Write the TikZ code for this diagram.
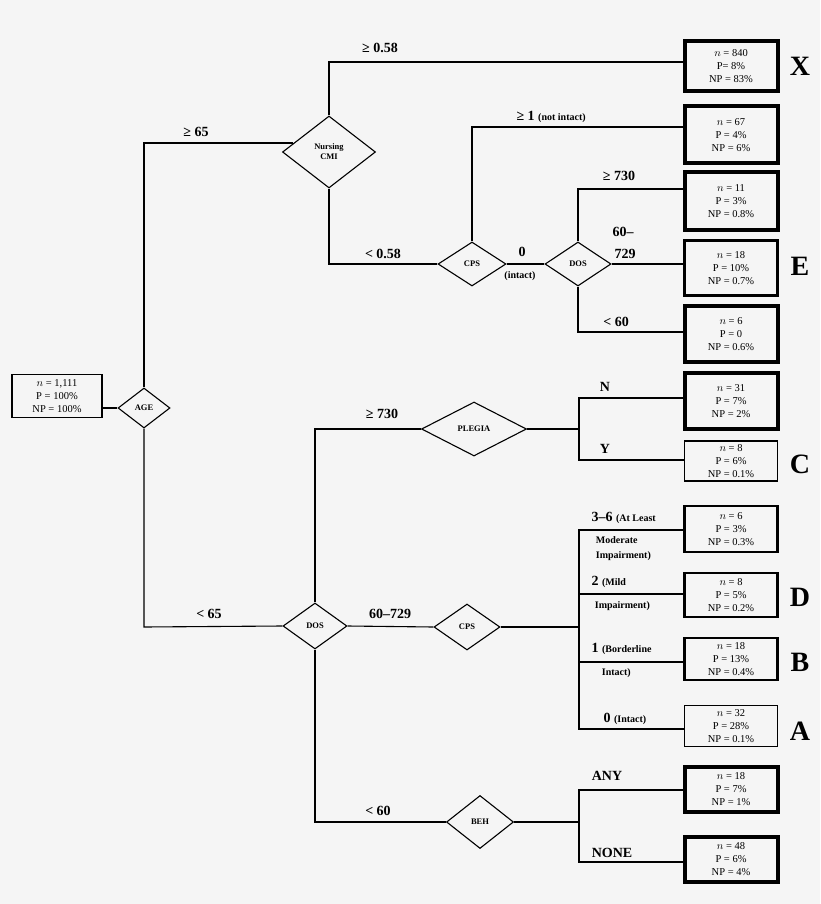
\documentclass[tikz,border=0pt]{standalone}
\usepackage{fontspec}
\setmainfont{Liberation Serif}
\usetikzlibrary{shapes.geometric,calc}
\definecolor{bg}{HTML}{F5F5F5}
\begin{document}
\begin{tikzpicture}[x=1pt,y=-1pt,line width=1.1pt,
  dia/.style={draw,diamond,inner sep=0pt,font=\fontsize{8.5}{10}\selectfont\bfseries,align=center},
  box/.style={draw,rectangle,inner sep=0pt,minimum width=93pt,align=center,font=\fontsize{10.5}{13}\selectfont},
  thin/.style={line width=1.5pt},med/.style={line width=2.6pt},thk/.style={line width=4pt},
  lab/.style={font=\fontsize{14}{15}\selectfont\bfseries,inner sep=0pt},
  sl/.style={font=\fontsize{10}{11}\selectfont\bfseries},
  grp/.style={font=\fontsize{28}{28}\selectfont\bfseries,inner sep=0pt}]
\fill[bg] (0,0) rectangle (820,904);
\useasboundingbox (0,0) rectangle (820,904);
% root
\node[box,thin,minimum width=90pt,minimum height=43pt] (root) at (57,396) {$n$ = 1,111\\P = 100\%\\NP = 100\%};
\node[dia,minimum width=52pt,minimum height=40pt] (age) at (144,408) {AGE};
\node[dia,minimum width=93pt,minimum height=72pt] (nurs) at (329,152) {Nursing\\CMI};
\node[dia,minimum width=68pt,minimum height=44pt] (cps1) at (472,264) {CPS};
\node[dia,minimum width=66pt,minimum height=44pt] (dos1) at (578,264) {DOS};
\node[dia,minimum width=64pt,minimum height=46pt] (dos2) at (315,626) {DOS};
\node[dia,minimum width=105pt,minimum height=54pt] (pleg) at (474,429) {PLEGIA};
\node[dia,minimum width=66pt,minimum height=46pt] (cps2) at (467,627) {CPS};
\node[dia,minimum width=67pt,minimum height=53pt] (beh) at (480,822) {BEH};
% leaves
\node[box,thk,minimum height=50pt] (bX) at (731,66) {$n$ = 840\\P= 8\%\\NP = 83\%};
\node[box,thk,minimum height=57pt] (b67) at (731,135) {$n$ = 67\\P = 4\%\\NP = 6\%};
\node[box,thk,minimum height=57pt] (b11) at (731,201) {$n$ = 11\\P = 3\%\\NP = 0.8\%};
\node[box,med,minimum height=55pt] (bE) at (731,268) {$n$ = 18\\P = 10\%\\NP = 0.7\%};
\node[box,thk,minimum height=56pt] (b6) at (731,334) {$n$ = 6\\P = 0\\NP = 0.6\%};
\node[box,thk,minimum height=56pt] (b31) at (731,401) {$n$ = 31\\P = 7\%\\NP = 2\%};
\node[box,thin,minimum height=40pt] (bC) at (731,461) {$n$ = 8\\P = 6\%\\NP = 0.1\%};
\node[box,med,minimum height=46pt] (b6b) at (731,529) {$n$ = 6\\P = 3\%\\NP = 0.3\%};
\node[box,med,minimum height=44pt] (bD) at (731,595) {$n$ = 8\\P = 5\%\\NP = 0.2\%};
\node[box,med,minimum height=42pt] (bB) at (731,659) {$n$ = 18\\P = 13\%\\NP = 0.4\%};
\node[box,thin,minimum height=41pt] (bA) at (731,726) {$n$ = 32\\P = 28\%\\NP = 0.1\%};
\node[box,thk,minimum height=45pt] (b18) at (731,789) {$n$ = 18\\P = 7\%\\NP = 1\%};
\node[box,thk,minimum height=45pt] (b48) at (731,859) {$n$ = 48\\P = 6\%\\NP = 4\%};
% group letters
\node[grp] (gX) at (800,66) {X};
\node[grp] (gE) at (800,266) {E};
\node[grp] (gC) at (800,464) {C};
\node[grp] (gD) at (800,597) {D};
\node[grp] (gB) at (800,662) {B};
\node[grp] (gA) at (800,731) {A};
% coordinates
\coordinate (a1) at (144,143);
\coordinate (a1e) at ($(nurs.west)+(11.5,-9)$);
\coordinate (a2) at (144,627);
\coordinate (n1) at (329,62);
\coordinate (n2) at (329,264);
\coordinate (c1) at (472,127);
\coordinate (d1) at (578,189);
\coordinate (d2) at (578,332);
\coordinate (e1) at (315,429);
\coordinate (e2) at (315,822);
\coordinate (p0) at (579,429);
\coordinate (p1) at (579,398);
\coordinate (p2) at (579,460);
\coordinate (q0) at (579,627);
\coordinate (q1) at (579,530);
\coordinate (q2) at (579,594);
\coordinate (q3) at (579,662);
\coordinate (q4) at (579,729);
\coordinate (r0) at (579,822);
\coordinate (r1) at (579,790);
\coordinate (r2) at (579,862);
% connectors
\draw (root.east |- age) -- (age.west);
\draw (age.north) -- (a1) -- (a1e);
\draw (age.south) -- (a2) -- (dos2.west);
\draw (nurs.north) -- (n1) -- (n1 -| bX.west);
\draw (nurs.south) -- (n2) -- (cps1.west);
\draw (cps1.north) -- (c1) -- (c1 -| b67.west);
\draw (cps1.east) -- (dos1.west);
\draw (dos1.north) -- (d1) -- (d1 -| b11.west);
\draw (dos1.east) -- (bE.west |- dos1);
\draw (dos1.south) -- (d2) -- (d2 -| b6.west);
\draw (dos2.north) -- (e1) -- (pleg.west);
\draw (dos2.east) -- (cps2.west);
\draw (dos2.south) -- (e2) -- (beh.west);
\draw (pleg.east) -- (p0);
\draw (p1 -| b31.west) -- (p1) -- (p2) -- (p2 -| bC.west);
\draw (cps2.east) -- (q0);
\draw (q1 -| b6b.west) -- (q1) -- (q4) -- (q4 -| bA.west);
\draw (q2) -- (q2 -| bD.west);
\draw (q3) -- (q3 -| bB.west);
\draw (beh.east) -- (r0);
\draw (r1 -| b18.west) -- (r1) -- (r2) -- (r2 -| b48.west);
% labels
\node[lab] (l1) at (380,48) {≥ 0.58};
\node[lab] (l2) at (196,132) {≥ 65};
\node[lab] (l3) at (383,254) {< 0.58};
\node[lab,anchor=west] (l4) at (516,117) {≥ 1 \textnormal{\fontsize{10}{11}\selectfont\bfseries (not intact)}};
\node[lab] (l5) at (522,252) {0};
\node[sl] (l6) at (520,276) {(intact)};
\node[lab] (l7) at (619,176) {≥ 730};
\node[lab] (l8) at (623,232) {60–};
\node[lab] (l9) at (625,254) {729};
\node[lab] (l10) at (616,322) {< 60};
\node[lab] (l11) at (382,414) {≥ 730};
\node[lab] (l12) at (390,614) {60–729};
\node[lab] (l13) at (209,614) {< 65};
\node[lab] (l14) at (378,811) {< 60};
\node[lab] (l15) at (605,387) {N};
\node[lab] (l16) at (605,449) {Y};
\node[lab,anchor=west] (l17) at (591,518) {3–6 \textnormal{\fontsize{10}{11}\selectfont\bfseries (At Least}};
\node[sl,anchor=west] (l18) at (592,540) {Moderate};
\node[sl,anchor=west] (l19) at (592,556) {Impairment)};
\node[lab,anchor=west] (l20) at (591,582) {2 \textnormal{\fontsize{10}{11}\selectfont\bfseries (Mild}};
\node[sl,anchor=west] (l21) at (591,606) {Impairment)};
\node[lab,anchor=west] (l22) at (591,649) {1 \textnormal{\fontsize{10}{11}\selectfont\bfseries (Borderline}};
\node[sl,anchor=west] (l23) at (598,673) {Intact)};
\node[lab,anchor=west] (l24) at (603,719) {0 \textnormal{\fontsize{10}{11}\selectfont\bfseries (Intact)}};
\node[lab] (l25) at (607,776) {ANY};
\node[lab] (l26) at (612,853) {NONE};
\end{tikzpicture}
\end{document}
